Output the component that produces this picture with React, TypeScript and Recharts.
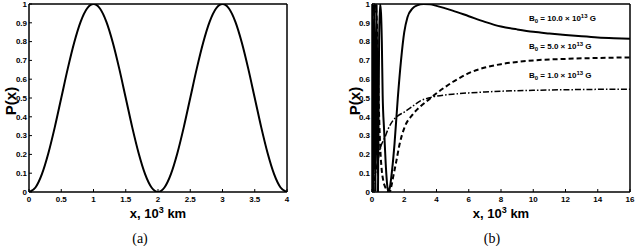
import React from 'react'
import { LineChart, Line, XAxis, YAxis } from 'recharts'

// panel (a)
const xA = [
  0, 0.1, 0.2, 0.3, 0.4, 0.5, 0.6, 0.7, 0.8, 0.9, 1,
  1.1, 1.2, 1.3, 1.4, 1.5, 1.6, 1.7, 1.8, 1.9, 2,
  2.1, 2.2, 2.3, 2.4, 2.5, 2.6, 2.7, 2.8, 2.9, 3,
  3.1, 3.2, 3.3, 3.4, 3.5, 3.6, 3.7, 3.8, 3.9, 4,
]
const pA = [
  0, 0.024, 0.095, 0.206, 0.345, 0.5, 0.655, 0.794, 0.905, 0.976, 1,
  0.976, 0.905, 0.794, 0.655, 0.5, 0.345, 0.206, 0.095, 0.024, 0,
  0.024, 0.095, 0.206, 0.345, 0.5, 0.655, 0.794, 0.905, 0.976, 1,
  0.976, 0.905, 0.794, 0.655, 0.5, 0.345, 0.206, 0.095, 0.024, 0,
]
const xTicksA = [0, 0.5, 1, 1.5, 2, 2.5, 3, 3.5, 4]

// panel (b)
const b10X = [0, 0.05, 0.1, 0.16, 0.22, 0.29, 0.37, 0.44, 0.5, 0.56, 0.61, 0.66, 0.75, 0.85, 0.95, 1.03, 1.12, 1.25, 1.4, 1.6, 1.8, 2, 2.2, 2.5, 2.8, 3.2, 3.6, 4, 5, 6, 7, 8, 9, 10, 11, 12, 13, 14, 15, 16]
const b10P = [0, 1, 0, 1, 0, 1, 0, 0.8, 1, 0.95, 0.8, 0.52, 0.33, 0.15, 0.03, 0, 0.03, 0.12, 0.26, 0.5, 0.7, 0.85, 0.93, 0.975, 0.993, 1, 0.998, 0.99, 0.965, 0.935, 0.905, 0.88, 0.865, 0.852, 0.843, 0.835, 0.828, 0.822, 0.818, 0.815]

const b5X = [0, 0.08, 0.15, 0.22, 0.3, 0.38, 0.45, 0.52, 0.6, 0.7, 0.8, 0.9, 1, 1.1, 1.2, 1.3, 1.5, 1.7, 2, 2.5, 3, 3.5, 4, 4.5, 5, 5.5, 6, 7, 8, 9, 10, 12, 14, 16]
const b5P = [0, 0.6, 0.95, 1, 0.9, 0.6, 0.38, 0.22, 0.12, 0.06, 0.03, 0.012, 0.003, 0, 0.03, 0.075, 0.16, 0.25, 0.34, 0.41, 0.455, 0.49, 0.525, 0.556, 0.585, 0.61, 0.632, 0.662, 0.68, 0.692, 0.7, 0.708, 0.713, 0.716]

const b1X = [0, 0.1, 0.2, 0.3, 0.4, 0.5, 0.6, 0.8, 1, 1.3, 1.6, 2, 2.5, 3, 3.5, 4, 5, 6, 7, 8, 10, 12, 14, 16]
const b1P = [0, 0.04, 0.09, 0.14, 0.18, 0.23, 0.255, 0.29, 0.335, 0.38, 0.405, 0.425, 0.455, 0.485, 0.5, 0.51, 0.52, 0.527, 0.532, 0.536, 0.541, 0.544, 0.546, 0.547]
const xTicksB = [0, 2, 4, 6, 8, 10, 12, 14, 16]

const yTicks = [0, 0.1, 0.2, 0.3, 0.4, 0.5, 0.6, 0.7, 0.8, 0.9, 1]

const zip = (xs: number[], ys: number[]) => xs.map((x, i) => ({ x, p: ys[i] }))

const dataA = zip(xA, pA)
const data10 = zip(b10X, b10P)
const data5 = zip(b5X, b5P)
const data1 = zip(b1X, b1P)

const SANS = '"Liberation Sans", Arial, Helvetica, sans-serif'
const tickFont = { fontSize: 8, fontWeight: 'bold', fill: '#000', fontFamily: SANS }
const axisLine = { stroke: '#000', strokeWidth: 1.5 }
const tickLine = { stroke: '#000', strokeWidth: 1 }

// box with inward ticks on all four sides, MATLAB style
function axes(xDomain: number[], xTicks: number[]) {
  return [
    <XAxis key="xb" xAxisId="b" dataKey="x" type="number" domain={xDomain} ticks={xTicks}
      allowDataOverflow height={1} tickSize={-3} tickMargin={7} interval={0}
      axisLine={axisLine} tickLine={tickLine} tick={tickFont} />,
    <XAxis key="xt" xAxisId="t" dataKey="x" type="number" orientation="top" domain={xDomain} ticks={xTicks}
      allowDataOverflow height={1} tickSize={-3} interval={0}
      axisLine={axisLine} tickLine={tickLine} tick={false} />,
    <YAxis key="yl" yAxisId="l" type="number" domain={[0, 1]} ticks={yTicks}
      allowDataOverflow width={1} tickSize={-3} tickMargin={5} interval={0}
      axisLine={axisLine} tickLine={tickLine} tick={tickFont} />,
    <YAxis key="yr" yAxisId="r" type="number" orientation="right" domain={[0, 1]} ticks={yTicks}
      allowDataOverflow width={1} tickSize={-3} interval={0}
      axisLine={axisLine} tickLine={tickLine} tick={false} />,
  ]
}

const label = (left: number, top: number, extra: React.CSSProperties = {}): React.CSSProperties => ({
  position: 'absolute', left, top, transform: 'translate(-50%, -50%)', whiteSpace: 'nowrap',
  fontFamily: SANS, fontWeight: 'bold', fontSize: 13, lineHeight: 1, color: '#000', ...extra,
})

const supStyle: React.CSSProperties = { fontSize: 9, position: 'relative', top: -5 }

function XLabel({ left }: { left: number }) {
  return (
    <div style={label(left, 213)}>
      x, 10<span style={supStyle}>3</span> km
    </div>
  )
}

function BLabel({ top, value }: { top: number; value: string }) {
  return (
    <div style={{ position: 'absolute', left: 529, top, transform: 'translateY(-50%)', whiteSpace: 'nowrap',
      fontFamily: SANS, fontWeight: 'bold', fontSize: 8, lineHeight: 1, color: '#000' }}>
      B<span style={{ fontSize: 6, position: 'relative', top: 2 }}>0</span> = {value} × 10
      <span style={{ fontSize: 6, position: 'relative', top: -3 }}>13</span> G
    </div>
  )
}

export default function App() {
  return (
    <div style={{ position: 'absolute', left: 0, top: 0, width: 636, height: 246, background: '#fff', overflow: 'hidden' }}>
      <div style={{ position: 'absolute', left: 0, top: 0 }}>
        <LineChart width={300} height={246} margin={{ top: 3, right: 12, left: 28, bottom: 53 }}>
          {axes([0, 4], xTicksA)}
          <Line data={dataA} xAxisId="b" yAxisId="l" dataKey="p" type="monotone" stroke="#000"
            strokeWidth={2} dot={false} isAnimationActive={false} />
        </LineChart>
      </div>
      <div style={{ position: 'absolute', left: 316, top: 0 }}>
        <LineChart width={320} height={246} margin={{ top: 3, right: 5, left: 55, bottom: 53 }}>
          {axes([0, 16], xTicksB)}
          <Line data={data1} xAxisId="b" yAxisId="l" dataKey="p" type="monotone" stroke="#000"
            strokeWidth={1.5} strokeDasharray="6 2 1.5 2" dot={false} isAnimationActive={false} />
          <Line data={data5} xAxisId="b" yAxisId="l" dataKey="p" type="monotone" stroke="#000"
            strokeWidth={2} strokeDasharray="5 3" dot={false} isAnimationActive={false} />
          <Line data={data10} xAxisId="b" yAxisId="l" dataKey="p" type="monotone" stroke="#000"
            strokeWidth={2} dot={false} isAnimationActive={false} />
        </LineChart>
      </div>

      <div style={label(10, 101, { transform: 'translate(-50%, -50%) rotate(-90deg)', fontSize: 15 })}>P(x)</div>
      <XLabel left={158} />
      <div style={label(140, 239, { fontFamily: '"Liberation Serif", "DejaVu Serif", serif', fontWeight: 'normal', fontSize: 14 })}>(a)</div>

      <div style={label(354, 101, { transform: 'translate(-50%, -50%) rotate(-90deg)', fontSize: 15 })}>P(x)</div>
      <XLabel left={501} />
      <div style={label(492, 239, { fontFamily: '"Liberation Serif", "DejaVu Serif", serif', fontWeight: 'normal', fontSize: 14 })}>(b)</div>

      <BLabel top={19} value="10.0" />
      <BLabel top={47} value="5.0" />
      <BLabel top={76} value="1.0" />
    </div>
  )
}
